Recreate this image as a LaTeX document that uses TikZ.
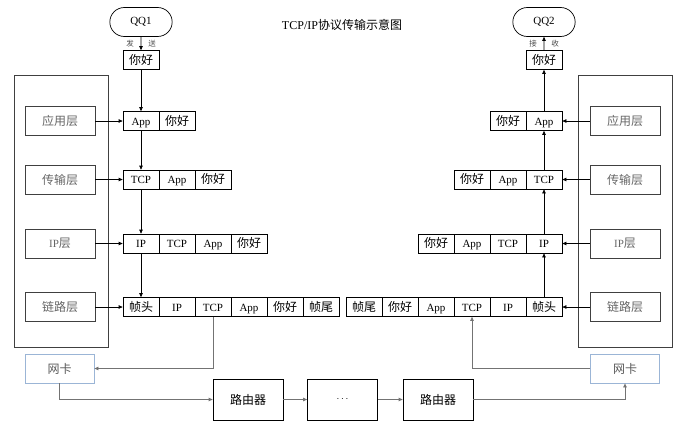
\documentclass[tikz,border=0pt]{standalone}
\usepackage{fontspec}
\setmainfont{Liberation Serif}
\newfontfamily\cjkfont{Noto Sans CJK SC}
\usetikzlibrary{arrows.meta,shapes.misc}
\newcommand\zh[1]{{\cjkfont\fontsize{12}{14}\selectfont #1}}
\definecolor{nicblue}{HTML}{9BB5D6}
\tikzset{
  cell/.style={draw, line width=0.7pt, minimum width=36pt, minimum height=19pt, inner sep=0pt, text height=10pt, text depth=2pt, font=\fontsize{11}{13}\selectfont},
  layer/.style={draw=black!75, line width=0.7pt, text=black!60, minimum width=70pt, minimum height=29pt, inner sep=0pt, font=\fontsize{11}{13}\selectfont},
  nic/.style={draw=nicblue, line width=0.8pt, text=black!65, minimum width=69pt, minimum height=29pt, inner sep=0pt},
  router/.style={draw, line width=0.7pt, minimum width=70pt, minimum height=41pt, inner sep=0pt},
  qq/.style={draw, line width=0.7pt, rounded rectangle, minimum width=69pt, minimum height=29pt, font=\fontsize{11}{13}\selectfont},
  tiny/.style={text=black!70, font=\cjkfont\fontsize{7.5}{8}\selectfont},
  arr/.style={-{Triangle[length=4pt,width=3.5pt]}, line width=0.7pt},
  wire/.style={arr, draw=black!55}
}
\begin{document}
\begin{tikzpicture}[x=1pt,y=-1pt]
    \useasboundingbox (0,0) rectangle (685,424);
    \node[font=\fontsize{12}{14}\selectfont] (title) at (342,25) {TCP/IP\zh{协议传输示意图}};

    \node[qq] (qq1) at (141,22) {QQ1};
    \node[qq] (qq2) at (544,22) {QQ2};
    \node[tiny] (fa) at (130,44) {发};
    \node[tiny] (song) at (152,44) {送};
    \node[tiny] (jie) at (533,44) {接};
    \node[tiny] (shou) at (555,44) {收};
    \node[cell] (l0c1) at (141,60) {\zh{你好}};
    \node[cell] (r0c1) at (544,60) {\zh{你好}};

    \draw[draw=black!75, line width=0.7pt] (14,75) rectangle (108,347);
    \draw[draw=black!75, line width=0.7pt] (578,75) rectangle (672,347);

    \foreach \t/\y [count=\i] in {\zh{应用层}/121, \zh{传输层}/179.5, IP\zh{层}/243.5, \zh{链路层}/307}
        {\node[layer] (ll\i) at (60,\y) {\t};
        \node[layer] (rl\i) at (625,\y) {\t};}

    \foreach \t [count=\i] in {App,\zh{你好}}
        \node[cell] (l1c\i) at (105+36*\i,121) {\t};
    \foreach \t [count=\i] in {TCP,App,\zh{你好}}
        \node[cell] (l2c\i) at (105+36*\i,179.5) {\t};
    \foreach \t [count=\i] in {IP,TCP,App,\zh{你好}}
        \node[cell] (l3c\i) at (105+36*\i,243.5) {\t};
    \foreach \t [count=\i] in {\zh{帧头},IP,TCP,App,\zh{你好},\zh{帧尾}}
        \node[cell] (l4c\i) at (105+36*\i,307) {\t};

    \foreach \t [count=\i] in {\zh{你好},App}
        \node[cell] (r1c\i) at (472+36*\i,121) {\t};
    \foreach \t [count=\i] in {\zh{你好},App,TCP}
        \node[cell] (r2c\i) at (436+36*\i,179.5) {\t};
    \foreach \t [count=\i] in {\zh{你好},App,TCP,IP}
        \node[cell] (r3c\i) at (400+36*\i,243.5) {\t};
    \foreach \t [count=\i] in {\zh{帧尾},\zh{你好},App,TCP,IP,\zh{帧头}}
        \node[cell] (r4c\i) at (328+36*\i,307) {\t};

    \foreach \i/\n in {1/2,2/3,3/4,4/6}
        {\draw[arr] (ll\i) -- (l\i c1);
        \draw[arr] (rl\i) -- (r\i c\n);}

    \draw[arr] (qq1) -- (l0c1);
    \draw[arr] (l0c1) -- (l1c1);
    \draw[arr] (l1c1) -- (l2c1);
    \draw[arr] (l2c1) -- (l3c1);
    \draw[arr] (l3c1) -- (l4c1);
    \draw[arr] (r4c6) -- (r3c4);
    \draw[arr] (r3c4) -- (r2c3);
    \draw[arr] (r2c3) -- (r1c2);
    \draw[arr] (r1c2) -- (r0c1);
    \draw[arr] (r0c1) -- (qq2);

    \node[nic] (nicl) at (59.5,368.5) {\zh{网卡}};
    \node[nic] (nicr) at (625,368.5) {\zh{网卡}};
    \node[router] (ra) at (248,399.5) {\zh{路由器}};
    \node[router] (mid) at (342.5,399.5) {$\cdots$};
    \node[router] (rb) at (438,399.5) {\zh{路由器}};

    \draw[wire] (l4c3.south) |- (nicl.east);
    \draw[wire] (nicl.south) |- (ra.west);
    \draw[wire] (ra) -- (mid);
    \draw[wire] (mid) -- (rb);
    \draw[wire] (rb.east) -| (nicr.south);
    \draw[wire] (nicr.west) -| (r4c4.south);

\end{tikzpicture}
\end{document}
